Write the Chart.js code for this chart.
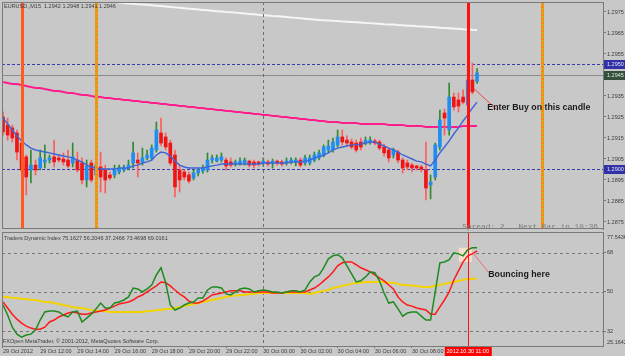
<!DOCTYPE html>
<html lang="en">
<head>
    <meta charset="UTF-8">
    <title>EURUSD M15 - Traders Dynamic Index</title>
    <script src="https://cdn.jsdelivr.net/npm/chart.js"></script>
    <style>
        html, body { margin: 0; padding: 0; background: #c8c8c8; }
        .wrap { position: relative; width: 625px; height: 356px; overflow: hidden; background: #c8c8c8; }
        #priceChart { position: absolute; left: 0; top: 0; }
        #tdiChart { position: absolute; left: 0; top: 231px; }
    </style>
</head>
<body>
<div class="wrap">
    <canvas id="priceChart" width="625" height="231"></canvas>
    <canvas id="tdiChart" width="625" height="125"></canvas>
</div>
<script>
// EURUSD M15 candles, 29 Oct 10:00 -> 30 Oct 11:30 (bar index 0..102)
const candleOpen = [
    1.29250,1.29212,1.29198,1.29174,1.29126,1.29060,1.28998,1.29021,1.29007,1.29036,
    1.29045,1.29060,1.29055,1.29050,1.29045,1.29031,1.29045,1.29031,1.28950,1.29031,
    1.28974,1.29012,1.28998,1.28974,1.28974,1.28988,1.28998,1.29007,1.29031,1.29045,
    1.29036,1.29055,1.29055,1.29093,1.29174,1.29155,1.29126,1.29069,1.28998,1.28988,
    1.28974,1.28960,1.28983,1.28993,1.28998,1.29045,1.29040,1.29045,1.29045,1.29036,
    1.29026,1.29031,1.29031,1.29040,1.29036,1.29036,1.29031,1.29036,1.29031,1.29040,
    1.29036,1.29031,1.29036,1.29036,1.29045,1.29031,1.29031,1.29045,1.29055,1.29069,
    1.29093,1.29093,1.29117,1.29155,1.29140,1.29131,1.29126,1.29131,1.29126,1.29131,
    1.29136,1.29131,1.29107,1.29093,1.29069,1.29083,1.29045,1.29031,1.29021,1.29017,
    1.29012,1.28998,1.28926,1.28964,1.29107,1.29269,1.29188,1.29345,1.29331,1.29345,
    1.29307,1.29426,1.29420
];
const candleHigh = [
    1.29274,1.29245,1.29212,1.29188,1.29140,1.29069,1.29093,1.29045,1.29093,1.29117,
    1.29069,1.29140,1.29069,1.29079,1.29093,1.29126,1.29083,1.29055,1.29045,1.29045,
    1.29083,1.29083,1.29021,1.28988,1.29021,1.29021,1.29021,1.29045,1.29131,1.29079,
    1.29102,1.29093,1.29117,1.29226,1.29245,1.29174,1.29140,1.29093,1.29021,1.28998,
    1.28988,1.28998,1.29007,1.29021,1.29079,1.29069,1.29069,1.29079,1.29055,1.29055,
    1.29045,1.29055,1.29055,1.29045,1.29045,1.29040,1.29055,1.29045,1.29050,1.29045,
    1.29045,1.29055,1.29055,1.29055,1.29055,1.29069,1.29069,1.29083,1.29093,1.29117,
    1.29140,1.29150,1.29188,1.29188,1.29160,1.29145,1.29140,1.29150,1.29155,1.29155,
    1.29145,1.29140,1.29121,1.29102,1.29102,1.29093,1.29055,1.29045,1.29031,1.29021,
    1.29021,1.29131,1.28974,1.29126,1.29283,1.29288,1.29412,1.29364,1.29364,1.29379,
    1.29483,1.29507,1.29480
];
const candleLow = [
    1.29164,1.29140,1.29131,1.29045,1.28988,1.28879,1.28936,1.28974,1.28998,1.29007,
    1.29031,1.29012,1.29036,1.29021,1.29007,1.29012,1.28988,1.28931,1.28917,1.28940,
    1.28926,1.28893,1.28888,1.28950,1.28960,1.28979,1.28988,1.28998,1.29007,1.28964,
    1.29021,1.29045,1.29045,1.29083,1.29112,1.29093,1.29021,1.28869,1.28893,1.28950,
    1.28936,1.28950,1.28969,1.28983,1.28988,1.29031,1.29036,1.29036,1.28998,1.29012,
    1.29017,1.29021,1.29021,1.29012,1.29007,1.29017,1.29017,1.29017,1.29007,1.29021,
    1.29017,1.29021,1.29026,1.29017,1.29012,1.29021,1.29021,1.29036,1.29045,1.29060,
    1.29083,1.29083,1.29107,1.29117,1.29112,1.29098,1.29083,1.29093,1.29117,1.29121,
    1.29117,1.29093,1.29064,1.29036,1.29055,1.29031,1.28983,1.28998,1.28988,1.28998,
    1.28988,1.28855,1.28860,1.28950,1.29093,1.29164,1.29164,1.29283,1.29274,1.29312,
    1.29298,1.29360,1.29410
];
const candleClose = [
    1.29179,1.29164,1.29150,1.29083,1.28998,1.28964,1.29021,1.28998,1.29055,1.29045,
    1.29055,1.29036,1.29045,1.29036,1.29017,1.29060,1.28998,1.28950,1.29017,1.28950,
    1.29021,1.28964,1.28950,1.28960,1.28998,1.29007,1.29007,1.29021,1.29079,1.29031,
    1.29055,1.29069,1.29102,1.29188,1.29126,1.29107,1.29031,1.28917,1.28950,1.28964,
    1.28945,1.28983,1.28998,1.29007,1.29045,1.29055,1.29055,1.29060,1.29017,1.29021,
    1.29036,1.29040,1.29045,1.29021,1.29021,1.29026,1.29040,1.29026,1.29040,1.29031,
    1.29026,1.29040,1.29045,1.29045,1.29021,1.29055,1.29055,1.29069,1.29079,1.29107,
    1.29112,1.29131,1.29155,1.29131,1.29126,1.29107,1.29093,1.29107,1.29140,1.29140,
    1.29126,1.29102,1.29079,1.29055,1.29093,1.29045,1.29007,1.29012,1.29007,1.29007,
    1.29002,1.28912,1.28940,1.29117,1.29236,1.29245,1.29345,1.29298,1.29302,1.29321,
    1.29426,1.29369,1.29460
];

// moving averages on price
const maFast = [
    1.29245,1.29217,1.29188,1.29160,1.29136,1.29117,1.29102,1.29093,1.29088,1.29083,
    1.29079,1.29074,1.29069,1.29064,1.29060,1.29055,1.29045,1.29036,1.29021,1.29012,
    1.29007,1.29002,1.29002,1.29002,1.29002,1.29007,1.29007,1.29007,1.29017,1.29021,
    1.29031,1.29036,1.29045,1.29069,1.29083,1.29079,1.29064,1.29040,1.29021,1.29012,
    1.29007,1.29007,1.29007,1.29007,1.29012,1.29017,1.29021,1.29026,1.29026,1.29026,
    1.29026,1.29026,1.29026,1.29026,1.29026,1.29026,1.29031,1.29031,1.29031,1.29031,
    1.29031,1.29031,1.29036,1.29036,1.29036,1.29040,1.29045,1.29055,1.29060,1.29069,
    1.29079,1.29093,1.29102,1.29107,1.29112,1.29117,1.29117,1.29121,1.29126,1.29131,
    1.29131,1.29121,1.29112,1.29102,1.29093,1.29083,1.29069,1.29060,1.29050,1.29040,
    1.29036,1.29026,1.29017,1.29045,1.29079,1.29107,1.29136,1.29169,1.29198,1.29231,
    1.29260,1.29293,1.29321
];
const maSlow = [
    1.29417,1.29412,1.29407,1.29407,1.29402,1.29398,1.29393,1.29388,1.29388,1.29383,
    1.29379,1.29374,1.29374,1.29369,1.29364,1.29364,1.29359,1.29355,1.29355,1.29350,
    1.29345,1.29345,1.29340,1.29340,1.29336,1.29336,1.29331,1.29331,1.29326,1.29326,
    1.29321,1.29321,1.29317,1.29317,1.29312,1.29312,1.29307,1.29307,1.29302,1.29302,
    1.29298,1.29298,1.29293,1.29293,1.29288,1.29288,1.29283,1.29283,1.29279,1.29279,
    1.29274,1.29274,1.29269,1.29269,1.29264,1.29264,1.29260,1.29260,1.29255,1.29255,
    1.29250,1.29250,1.29245,1.29245,1.29240,1.29240,1.29236,1.29236,1.29231,1.29231,
    1.29226,1.29226,1.29226,1.29221,1.29221,1.29221,1.29221,1.29217,1.29217,1.29217,
    1.29217,1.29217,1.29217,1.29212,1.29212,1.29212,1.29212,1.29207,1.29207,1.29207,
    1.29207,1.29202,1.29202,1.29202,1.29202,1.29202,1.29202,1.29202,1.29202,1.29207,
    1.29207,1.29207,1.29207
];
const maLong = [
    1.29843,1.29841,1.29839,1.29837,1.29835,1.29833,1.29831,1.29830,1.29828,1.29826,
    1.29824,1.29822,1.29820,1.29818,1.29816,1.29814,1.29812,1.29810,1.29808,1.29806,
    1.29805,1.29803,1.29801,1.29799,1.29797,1.29795,1.29793,1.29791,1.29789,1.29787,
    1.29786,1.29784,1.29782,1.29780,1.29778,1.29776,1.29774,1.29772,1.29770,1.29768,
    1.29766,1.29764,1.29762,1.29760,1.29758,1.29756,1.29754,1.29752,1.29750,1.29749,
    1.29747,1.29745,1.29743,1.29741,1.29739,1.29737,1.29735,1.29733,1.29731,1.29730,
    1.29728,1.29726,1.29724,1.29722,1.29720,1.29718,1.29716,1.29714,1.29712,1.29711,
    1.29710,1.29708,1.29707,1.29705,1.29704,1.29702,1.29701,1.29700,1.29698,1.29697,
    1.29695,1.29694,1.29692,1.29691,1.29690,1.29688,1.29687,1.29685,1.29684,1.29682,
    1.29681,1.29680,1.29678,1.29677,1.29675,1.29674,1.29673,1.29671,1.29670,1.29668,
    1.29667,1.29665,1.29664
];

// Traders Dynamic Index
const tdiPrice = [
    44.0,39.4,33.8,30.6,29.2,30.2,30.6,32.5,37.1,40.8,
    41.2,41.2,40.8,39.4,38.5,40.8,41.2,36.2,38.0,39.8,
    42.2,44.9,42.6,42.6,44.9,45.4,46.3,47.7,51.8,51.4,
    50.0,51.4,53.2,57.8,61.1,54.2,44.0,41.7,42.6,44.0,
    44.9,45.4,47.2,47.2,50.9,52.3,52.3,51.8,49.1,48.6,
    50.0,51.4,51.8,51.4,50.0,50.5,50.9,50.5,50.0,50.0,
    49.5,50.0,50.5,50.5,50.0,50.9,54.6,56.9,57.8,61.1,
    65.2,66.6,67.1,65.7,62.0,58.3,54.6,55.1,56.9,59.2,
    58.8,55.1,49.5,44.9,45.4,42.2,38.9,40.3,40.8,40.8,
    38.9,37.1,37.1,50.0,63.4,63.8,64.8,68.0,67.5,66.6,
    69.4,70.3,70.3
];
const tdiSignal = [
    45.4,42.6,39.8,37.5,35.7,34.3,33.4,32.9,32.9,33.8,
    36.2,37.1,38.5,39.4,40.3,40.8,40.3,39.8,39.8,40.3,
    40.8,41.2,41.7,42.6,43.5,44.5,44.9,45.4,46.3,47.7,
    48.6,50.0,51.4,52.8,54.6,54.2,52.8,50.9,49.1,47.7,
    45.8,44.9,44.9,45.8,47.2,48.6,49.1,49.5,50.0,50.5,
    50.5,50.5,50.0,50.0,50.0,50.0,50.0,50.0,49.5,49.5,
    49.5,50.0,50.0,50.0,50.0,50.0,50.9,51.8,53.2,55.1,
    56.9,59.2,62.0,63.4,63.8,63.8,62.5,61.1,60.2,59.2,
    57.8,56.5,55.1,53.2,51.4,47.7,45.4,44.0,43.5,42.6,
    42.2,41.7,39.8,39.8,43.1,46.3,50.0,55.5,59.7,63.8,
    66.6,67.5,68.9
];
const tdiBase = [
    47.7,47.7,47.2,47.2,46.8,46.8,46.3,46.3,45.8,45.4,
    45.4,44.9,44.5,44.0,43.5,43.1,42.6,42.6,42.2,41.7,
    41.2,41.2,41.2,40.8,40.8,40.8,40.8,40.8,40.8,40.8,
    40.8,41.2,41.2,41.7,41.7,42.2,42.2,42.6,43.1,43.5,
    44.0,44.5,44.9,45.4,45.8,46.3,46.8,47.2,47.7,48.2,
    48.2,48.6,48.6,49.1,49.1,49.5,49.5,49.5,49.5,49.5,
    49.5,49.5,49.5,49.5,49.5,49.5,49.1,49.5,50.0,50.5,
    50.9,51.8,52.3,52.8,53.2,53.7,54.2,54.2,54.6,54.6,
    54.6,54.6,54.6,54.2,54.2,53.7,53.2,53.2,52.8,52.8,
    52.3,52.3,52.3,52.8,53.2,53.7,54.2,54.6,55.1,55.5,
    56.0,56.0,56.2
];

// axis ticks and labels
const priceTicks = [1.2875, 1.2885, 1.2895, 1.2905, 1.2915, 1.2925, 1.2935, 1.2955, 1.2965, 1.2975];
const tdiTicks = [32, 50, 68];
const tdiMin = 25.1642;
const tdiMax = 77.5436;
const timeTickBars = [0, 8, 16, 24, 32, 40, 48, 56, 64, 72, 80, 88];
const timeTickLabels = ['29 Oct 2012', '29 Oct 12:00', '29 Oct 14:00', '29 Oct 16:00', '29 Oct 18:00', '29 Oct 20:00',
    '29 Oct 22:00', '30 Oct 00:00', '30 Oct 02:00', '30 Oct 04:00', '30 Oct 06:00', '30 Oct 08:00'];
const levelPrices = [1.2950, 1.2900];
const bidPrice = 1.29452;
const orangeBar = 4;
const goldBars = [20, 116];
const dayBar = 56;
const entryBar = 100;
const entryLabel = '2012.10.30 11:00';

Chart.defaults.font.family = "'Liberation Sans', Arial, sans-serif";
const small = { size: 5.5, family: "'Liberation Sans', Arial, sans-serif" };
const xMin = -0.215, xMax = 129.1;

// stop the axes from reserving room for half-labels at the ends
function noPad(s) {
    s.paddingTop = 0; s.paddingBottom = 0; s.paddingLeft = 0; s.paddingRight = 0;
}

function vline(ctx, a, px, color, width, dash) {
    ctx.save();
    ctx.strokeStyle = color;
    ctx.lineWidth = width;
    ctx.setLineDash(dash || []);
    ctx.beginPath();
    ctx.moveTo(px, a.top);
    ctx.lineTo(px, a.bottom);
    ctx.stroke();
    ctx.restore();
}

const priceOverlay = {
    id: 'priceOverlay',
    beforeDatasetsDraw(chart) {
        const { ctx, chartArea: a, scales: { y } } = chart;
        ctx.save();
        ctx.lineWidth = 1;
        ctx.strokeStyle = '#3a3ab4';
        ctx.setLineDash([3, 2]);
        levelPrices.forEach(v => {
            const py = Math.round(y.getPixelForValue(v)) + 0.5;
            ctx.beginPath(); ctx.moveTo(a.left, py); ctx.lineTo(a.right, py); ctx.stroke();
        });
        ctx.setLineDash([]);
        ctx.strokeStyle = '#8c8c8c';
        const by = Math.round(y.getPixelForValue(bidPrice)) + 0.5;
        ctx.beginPath(); ctx.moveTo(a.left, by); ctx.lineTo(a.right, by); ctx.stroke();
        ctx.restore();
    },
    afterDatasetsDraw(chart) {
        const { ctx, chartArea: a, scales: { x, y } } = chart;
        const px = i => Math.round(x.getPixelForValue(i)) + 0.5;
        vline(ctx, a, px(orangeBar), '#ff5a22', 3);
        goldBars.forEach(b => {
            vline(ctx, a, px(b), '#d9a426', 3);
            vline(ctx, a, px(b), '#ff8a00', 3, [2, 2]);
        });
        vline(ctx, a, px(dayBar), '#6e6e6e', 1, [3, 3]);
        vline(ctx, a, px(entryBar), '#ff1010', 3);

        ctx.save();
        ctx.strokeStyle = '#f04848';
        ctx.lineWidth = 1;
        ctx.beginPath();
        ctx.moveTo(x.getPixelForValue(101.2), y.getPixelForValue(1.29388));
        ctx.lineTo(x.getPixelForValue(106.3), y.getPixelForValue(1.29283));
        ctx.stroke();
        ctx.fillStyle = '#1c1c1c';
        ctx.font = "bold 8.8px 'Liberation Sans', Arial, sans-serif";
        ctx.textBaseline = 'middle';
        ctx.textAlign = 'left';
        ctx.fillText('Enter Buy on this candle', x.getPixelForValue(104.2), y.getPixelForValue(1.29293));

        ctx.fillStyle = '#3c3c3c';
        ctx.font = "5.5px 'Liberation Sans', Arial, sans-serif";
        ctx.fillText('EURUSD,,M15  1.2942 1.2948 1.2941 1.2946', 4, 6);

        ctx.fillStyle = '#7c7c7c';
        ctx.font = "7.8px 'Liberation Mono', monospace";
        ctx.textAlign = 'right';
        ctx.fillText('Spread: 2.. Next Bar in 10:36', 598, a.bottom - 2);
        ctx.restore();
    },
    afterDraw(chart) {
        const { ctx, chartArea: a, scales: { y } } = chart;
        ctx.save();
        ctx.strokeStyle = '#7a7a7a';
        ctx.lineWidth = 1;
        ctx.strokeRect(a.left + 0.5, a.top + 0.5, a.right - a.left, a.bottom - a.top - 1);
        const box = (v, txt, bg, fg) => {
            const py = Math.round(y.getPixelForValue(v));
            ctx.fillStyle = bg;
            ctx.fillRect(a.right + 1, py - 4, 21, 9);
            ctx.fillStyle = fg;
            ctx.font = "5.5px 'Liberation Sans', Arial, sans-serif";
            ctx.textBaseline = 'middle';
            ctx.textAlign = 'left';
            ctx.fillText(txt, a.right + 4, py + 0.5);
        };
        box(1.2950, '1.2950', '#3232a8', '#e4e4f4');
        box(bidPrice, '1.2945', '#34503a', '#d8e8d8');
        box(1.2900, '1.2900', '#3232a8', '#e4e4f4');
        ctx.restore();
    }
};

const bars = candleOpen.map((_, i) => i);
const isBull = i => candleClose[i] >= candleOpen[i];

new Chart(document.getElementById('priceChart'), {
    type: 'bar',
    data: {
        datasets: [
            {
                type: 'line', label: 'MA fast', order: 0,
                data: bars.map(i => ({ x: i, y: maFast[i] })),
                borderColor: '#3c66d8', borderWidth: 1.4, pointRadius: 0, tension: 0
            },
            {
                label: 'Body', order: 1, grouped: false,
                data: bars.map(i => ({ x: i, y: [candleOpen[i], candleClose[i]] })),
                backgroundColor: c => isBull(c.dataIndex) ? '#1e8ef2' : '#f01414',
                barThickness: 3, minBarLength: 1, borderWidth: 0
            },
            {
                label: 'Wick', order: 2, grouped: false,
                data: bars.map(i => ({ x: i, y: [candleLow[i], candleHigh[i]] })),
                backgroundColor: c => isBull(c.dataIndex) ? '#2f8a30' : '#ff5c5c',
                barThickness: 1, borderWidth: 0
            },
            {
                type: 'line', label: 'MA slow', order: 3,
                data: bars.map(i => ({ x: i, y: maSlow[i] })),
                borderColor: '#ff1e8c', borderWidth: 2, pointRadius: 0, tension: 0
            },
            {
                type: 'line', label: 'MA long', order: 4,
                data: bars.map(i => ({ x: i, y: maLong[i] })),
                borderColor: '#f6f6f6', borderWidth: 2, pointRadius: 0, tension: 0
            }
        ]
    },
    options: {
        responsive: false,
        animation: false,
        layout: { padding: { left: 2, top: 2, bottom: 2, right: 0 } },
        plugins: { legend: { display: false }, tooltip: { enabled: false } },
        scales: {
            x: { type: 'linear', min: xMin, max: xMax, offset: false, display: false },
            y: {
                position: 'right', min: 1.287166, max: 1.297976,
                afterFit: s => { s.width = 22; noPad(s); },
                afterBuildTicks: s => { s.ticks = priceTicks.map(v => ({ value: v })); },
                ticks: { callback: v => v.toFixed(4), font: small, color: '#3c3c3c', padding: 1 },
                grid: { drawOnChartArea: false, tickLength: 3, color: '#7a7a7a' },
                border: { color: '#7a7a7a' }
            }
        }
    },
    plugins: [priceOverlay]
});

const tdiOverlay = {
    id: 'tdiOverlay',
    beforeDatasetsDraw(chart) {
        const { ctx, chartArea: a, scales: { x, y } } = chart;
        ctx.save();
        ctx.strokeStyle = '#767676';
        ctx.lineWidth = 1;
        ctx.setLineDash([3, 3]);
        tdiTicks.forEach(v => {
            const py = Math.round(y.getPixelForValue(v)) + 0.5;
            ctx.beginPath(); ctx.moveTo(a.left, py); ctx.lineTo(a.right, py); ctx.stroke();
        });
        ctx.restore();
        vline(ctx, a, Math.round(x.getPixelForValue(dayBar)) + 0.5, '#6e6e6e', 1, [3, 3]);
        // highlight square at the bounce
        ctx.save();
        ctx.fillStyle = 'rgba(255, 226, 204, 0.85)';
        const x0 = x.getPixelForValue(98.1), x1 = x.getPixelForValue(100.9);
        const y0 = y.getPixelForValue(70.3), y1 = y.getPixelForValue(63.8);
        ctx.fillRect(x0, y0, x1 - x0, y1 - y0);
        ctx.restore();
    },
    afterDatasetsDraw(chart) {
        const { ctx, chartArea: a, scales: { x, y } } = chart;
        vline(ctx, a, Math.round(x.getPixelForValue(entryBar)) + 0.5, '#ff1010', 1);
        ctx.save();
        ctx.strokeStyle = '#f06a6a';
        ctx.lineWidth = 1;
        ctx.beginPath();
        ctx.moveTo(x.getPixelForValue(101.1), y.getPixelForValue(68.0));
        ctx.lineTo(x.getPixelForValue(104.4), y.getPixelForValue(59.2));
        ctx.stroke();
        ctx.fillStyle = '#1c1c1c';
        ctx.font = "bold 8.8px 'Liberation Sans', Arial, sans-serif";
        ctx.textBaseline = 'middle';
        ctx.fillText('Bouncing here', x.getPixelForValue(104.4), y.getPixelForValue(57.9));

        ctx.fillStyle = '#3c3c3c';
        ctx.font = "5.5px 'Liberation Sans', Arial, sans-serif";
        ctx.fillText('Traders Dynamic Index 75.1627 56.2046 37.2466 73.4698 69.0161', 4, a.top + 6);
        ctx.fillText('FXOpen MetaTrader, \u00a9 2001-2012, MetaQuotes Software Corp.', 3, a.bottom - 5);
        ctx.restore();
    },
    afterDraw(chart) {
        const { ctx, chartArea: a, scales: { x } } = chart;
        ctx.save();
        ctx.strokeStyle = '#7a7a7a';
        ctx.lineWidth = 1;
        ctx.strokeRect(a.left + 0.5, a.top + 0.5, a.right - a.left, a.bottom - a.top);
        ctx.fillStyle = '#3c3c3c';
        ctx.font = "5.5px 'Liberation Sans', Arial, sans-serif";
        ctx.textBaseline = 'middle';
        ctx.fillText(tdiMax.toFixed(4), a.right + 4, a.top + 5);
        ctx.fillText(tdiMin.toFixed(4), a.right + 4, a.bottom - 4);
        // current bar time label
        const cx = x.getPixelForValue(entryBar);
        ctx.fillStyle = '#ff0000';
        ctx.fillRect(cx - 23, a.bottom + 1, 47, 9);
        ctx.fillStyle = '#ffffff';
        ctx.textAlign = 'center';
        ctx.fillText(entryLabel, cx, a.bottom + 5.5);
        ctx.restore();
    }
};

new Chart(document.getElementById('tdiChart'), {
    type: 'line',
    data: {
        datasets: [
            {
                label: 'RSI price line', data: bars.map(i => ({ x: i, y: tdiPrice[i] })),
                borderColor: '#1f8a1f', borderWidth: 1.5, pointRadius: 0, tension: 0
            },
            {
                label: 'Trade signal line', data: bars.map(i => ({ x: i, y: tdiSignal[i] })),
                borderColor: '#ff1a1a', borderWidth: 1.5, pointRadius: 0, tension: 0
            },
            {
                label: 'Market base line', data: bars.map(i => ({ x: i, y: tdiBase[i] })),
                borderColor: '#f2d200', borderWidth: 2, pointRadius: 0, tension: 0
            }
        ]
    },
    options: {
        responsive: false,
        animation: false,
        layout: { padding: { left: 2, top: 1, bottom: 0, right: 0 } },
        plugins: { legend: { display: false }, tooltip: { enabled: false } },
        scales: {
            x: {
                type: 'linear', min: xMin, max: xMax, offset: false,
                afterFit: s => { s.height = 10; noPad(s); },
                afterBuildTicks: s => { s.ticks = timeTickBars.map(v => ({ value: v })); },
                ticks: {
                    autoSkip: false, maxRotation: 0, align: 'start', padding: 0,
                    font: small, color: '#3c3c3c',
                    callback: (v, idx) => timeTickLabels[idx]
                },
                grid: { drawOnChartArea: false, tickLength: 2, color: '#7a7a7a' },
                border: { color: '#7a7a7a' }
            },
            y: {
                position: 'right', min: tdiMin, max: tdiMax,
                afterFit: s => { s.width = 22; noPad(s); },
                afterBuildTicks: s => { s.ticks = tdiTicks.map(v => ({ value: v })); },
                ticks: { font: small, color: '#3c3c3c', padding: 1 },
                grid: { drawOnChartArea: false, tickLength: 3, color: '#7a7a7a' },
                border: { color: '#7a7a7a' }
            }
        }
    },
    plugins: [tdiOverlay]
});
</script>
</body>
</html>
